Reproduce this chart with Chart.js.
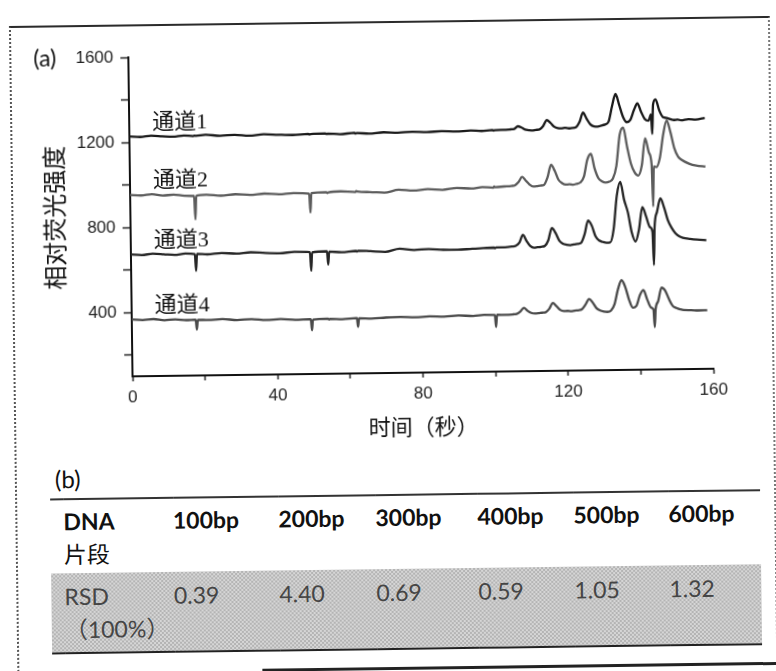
<!DOCTYPE html>
<html>
<head>
<meta charset="utf-8">
<script src="https://cdn.jsdelivr.net/npm/chart.js@4.4.1/dist/chart.umd.min.js"></script>
<style>
  html, body { margin: 0; padding: 0; background: #fff; }
  body { width: 776px; height: 671px; overflow: hidden; }
  #page { position: relative; width: 776px; height: 671px; transform: rotate(-0.75deg); transform-origin: 388px 335px; }
  #frame { position: absolute; left: 13px; top: 21px; width: 757px; height: 720px;
           border-top: 2px solid #2b2b2b; border-left: 2px dotted #555; border-right: 2px dotted #777; }
  #foot { position: absolute; left: 258px; top: 667px; width: 560px; height: 3px; background: #222; }
  #shade { position: absolute; left: 48px; top: 569px; width: 710px; height: 79px;
           background: repeating-conic-gradient(#b4b4b4 0% 25%, #d6d6d6 0% 50%) 0 0 / 4px 4px; }
  #myChart { position: absolute; left: 0; top: 0; }
  .tag { position: absolute; font-family: Lato, "Noto Sans CJK SC", sans-serif; color: #111; line-height: 1; }
  #rsd { position: absolute; left: 48px; top: 494px; width: 710px; border-collapse: collapse; table-layout: fixed;
         font-family: Lato, "Noto Sans CJK SC", sans-serif; font-size: 23px; line-height: 33px; }
  #rsd th, #rsd td { padding: 0; text-align: left; vertical-align: top; white-space: nowrap; }
  #rsd thead tr { border-top: 2px solid #333; }
  #rsd thead th { height: 68px; padding-top: 5px; font-weight: bold; color: #111; }
  #rsd thead th .cn { font-weight: normal; }
  #rsd tbody tr { border-bottom: 2px solid #222; }
  #rsd tbody td { height: 72px; padding-top: 7px; color: #454545; }
</style>
</head>
<body>
<div id="page">
  <div id="frame"></div>
  <div id="foot"></div>
  <div id="shade"></div>
  <canvas id="myChart" width="776" height="450"></canvas>
  <div class="tag" style="left:37px; top:42px; font-size:23px;">(a)</div>
  <div class="tag" style="left:53px; top:463px; font-size:24px;">(b)</div>
  <table id="rsd">
    <colgroup>
      <col style="width:13px"><col style="width:109.5px"><col style="width:105.5px"><col style="width:97px">
      <col style="width:102px"><col style="width:96px"><col style="width:95px"><col style="width:92px">
    </colgroup>
    <thead><tr id="headRow"></tr></thead>
    <tbody><tr id="valueRow"></tr></tbody>
  </table>
</div>

<script>
// time axis (s), shared by the four channels
var timeSec = [0, 3, 6, 9, 12, 15, 17.6, 17.9, 18.2, 21, 25, 29, 33, 37, 41, 45, 49.3, 49.6, 49.9, 54.0, 54.3, 54.6, 58, 62.0, 62.3, 62.6, 66, 70, 74, 78, 82, 86, 90, 94, 97, 100.0, 100.3, 100.6, 103, 105,
    106, 107, 108, 109, 110, 111, 112, 113, 114, 115, 116, 117, 118, 119, 120, 121, 122, 123, 124, 125,
    126, 127, 128, 129, 130, 131, 132, 133, 134, 135, 136, 137, 138, 139, 140, 141, 142, 143, 143.7, 144.0, 144.3,
    145, 146, 147, 148, 149, 150, 151, 152, 154, 156, 158.5];

// relative fluorescence intensity
var channel1 = [1228, 1225, 1230, 1227, 1224, 1229, 1226, 1228, 1227, 1231, 1226, 1229, 1224, 1230, 1227, 1225, 1229, 1226, 1228, 1230, 1227, 1229, 1226, 1231, 1228, 1230, 1227, 1232, 1229, 1233, 1230, 1234, 1231, 1235, 1232, 1236, 1233, 1235, 1236, 1238,
    1240, 1252, 1246, 1236, 1233, 1231, 1234, 1236, 1252, 1280, 1266, 1248, 1241, 1240, 1242, 1239, 1241, 1244, 1268, 1312,
    1282, 1256, 1247, 1246, 1250, 1255, 1268, 1340, 1398, 1345, 1290, 1265, 1275, 1320, 1352, 1312, 1278, 1270, 1300, 1208, 1345,
    1370, 1318, 1286, 1282, 1276, 1272, 1274, 1270, 1275, 1273, 1280];
var channel2 = [953, 950, 955, 948, 952, 946, 944, 833, 945, 949, 944, 950, 946, 951, 947, 952, 948, 859, 950, 954, 950, 953, 957, 953, 958, 955, 952, 948, 961, 956, 962, 958, 966, 962, 968, 965, 970, 967, 970, 972,
    975, 990, 1014, 996, 978, 968, 969, 972, 975, 1010, 1069, 1040, 998, 982, 975, 976, 974, 978, 984, 1010,
    1090, 1118, 1048, 1003, 988, 982, 986, 1000, 1060, 1205, 1240, 1150, 1070, 1028, 1013, 1060, 1188, 1120, 1065, 867, 1055,
    1052, 1095, 1205, 1270, 1215, 1140, 1100, 1084, 1066, 1056, 1051];
var channel3 = [673, 670, 675, 672, 668, 674, 671, 592, 672, 669, 674, 671, 676, 672, 670, 675, 673, 585, 672, 676, 613, 674, 671, 676, 673, 677, 674, 670, 684, 677, 680, 676, 675, 679, 681, 683, 680, 684, 684, 687,
    690, 705, 741, 712, 688, 680, 682, 684, 688, 715, 772, 748, 712, 697, 692, 690, 693, 695, 700, 740,
    805, 780, 730, 710, 703, 699, 700, 760, 920, 984, 900, 840, 745, 703, 760, 865, 820, 770, 748, 592, 770,
    840, 904, 860, 800, 765, 740, 725, 718, 712, 708, 705];
var channel4 = [367, 364, 368, 362, 365, 361, 363, 316, 362, 360, 364, 358, 362, 357, 360, 356, 358, 305, 356, 359, 355, 358, 356, 360, 319, 359, 357, 361, 363, 360, 364, 362, 366, 363, 367, 366, 310, 367, 366, 368,
    370, 380, 398, 384, 374, 371, 372, 374, 376, 392, 419, 404, 386, 380, 381, 379, 382, 383, 388, 410,
    436, 418, 392, 381, 376, 374, 380, 410, 480, 522, 490, 430, 392, 400, 450, 474, 430, 392, 382, 299, 385,
    420, 485, 470, 430, 398, 388, 382, 378, 377, 375, 376];

var channelNames = ['通道1', '通道2', '通道3', '通道4'];
var channelColors = ['#1a1a1a', '#5c5c5c', '#262626', '#4a4a4a'];

var xTickValues = [0, 20, 40, 60, 80, 100, 120, 140, 160];
var xLabelValues = [0, 40, 80, 120, 160];
var yTickValues = [200, 400, 600, 800, 1000, 1200, 1400, 1600];
var yLabelValues = [400, 800, 1200, 1600];

// table (b)
var fragments = ['100bp', '200bp', '300bp', '400bp', '500bp', '600bp'];
var rsdValues = ['0.39', '4.40', '0.69', '0.59', '1.05', '1.32'];

function buildTable() {
    var head = document.getElementById('headRow');
    var row = document.getElementById('valueRow');
    head.innerHTML = '<th></th><th>DNA<br><span class="cn">片段</span></th>' +
        fragments.map(function (f) { return '<th>' + f + '</th>'; }).join('');
    row.innerHTML = '<td></td><td>RSD<br>（100%）</td>' +
        rsdValues.map(function (v) { return '<td>' + v + '</td>'; }).join('');
}

var channelLabels = {
    id: 'channelLabels',
    afterDatasetsDraw: function (chart) {
        var ctx = chart.ctx;
        var x = chart.scales.x, y = chart.scales.y;
        ctx.save();
        ctx.font = '22px "Liberation Serif", "Noto Sans CJK SC"';
        ctx.fillStyle = '#111';
        ctx.textBaseline = 'middle';
        chart.data.datasets.forEach(function (ds) {
            ctx.fillText(ds.label, x.getPixelForValue(6.3), y.getPixelForValue(ds.data[0].y) - 13);
        });
        ctx.restore();
    }
};

function createChart() {
    var series = [channel1, channel2, channel3, channel4];
    var ctx = document.getElementById('myChart').getContext('2d');
    var tickFont = { family: '"Liberation Sans", Arial, sans-serif', size: 17 };

    new Chart(ctx, {
        type: 'line',
        data: {
            datasets: series.map(function (s, i) {
                return {
                    label: channelNames[i],
                    data: timeSec.map(function (t, k) { return { x: t, y: s[k] }; }),
                    borderColor: channelColors[i],
                    borderWidth: 2.3,
                    pointRadius: 0,
                    cubicInterpolationMode: 'monotone'
                };
            })
        },
        options: {
            responsive: false,
            animation: false,
            devicePixelRatio: 1,
            layout: { autoPadding: false, padding: { left: 0, top: 54, right: 63, bottom: 0 } },
            plugins: { legend: { display: false }, tooltip: { enabled: false } },
            scales: {
                x: {
                    type: 'linear', min: 0, max: 160,
                    afterFit: function (s) { s.height = 77; },
                    afterBuildTicks: function (s) { s.ticks = xTickValues.map(function (v) { return { value: v }; }); },
                    ticks: {
                        autoSkip: false, maxRotation: 0, padding: 6, color: '#222', font: tickFont,
                        callback: function (v) { return xLabelValues.includes(v) ? String(v) : ''; }
                    },
                    grid: { drawOnChartArea: false, tickLength: 5, tickWidth: 1.5, tickColor: '#222' },
                    border: { color: '#111', width: 2 },
                    title: { display: true, text: '时间（秒）', color: '#111',
                             font: { family: '"Noto Sans CJK SC", sans-serif', size: 22 }, padding: { top: 0, bottom: 10 } }
                },
                y: {
                    type: 'linear', min: 100, max: 1600,
                    afterFit: function (s) { s.width = 132; },
                    afterBuildTicks: function (s) { s.ticks = yTickValues.map(function (v) { return { value: v }; }); },
                    ticks: {
                        padding: 7, color: '#222', font: tickFont,
                        callback: function (v) { return yLabelValues.includes(v) ? String(v) : ''; }
                    },
                    grid: { drawOnChartArea: false, tickLength: 8, tickWidth: 1.5, tickColor: '#222' },
                    border: { color: '#111', width: 2 },
                    title: { display: true, text: '相对荧光强度', color: '#111',
                             font: { family: '"Noto Sans CJK SC", sans-serif', size: 24 }, padding: { top: 41, bottom: 0 } }
                }
            }
        },
        plugins: [channelLabels]
    });
}

buildTable();
createChart();
</script>
</body>
</html>
